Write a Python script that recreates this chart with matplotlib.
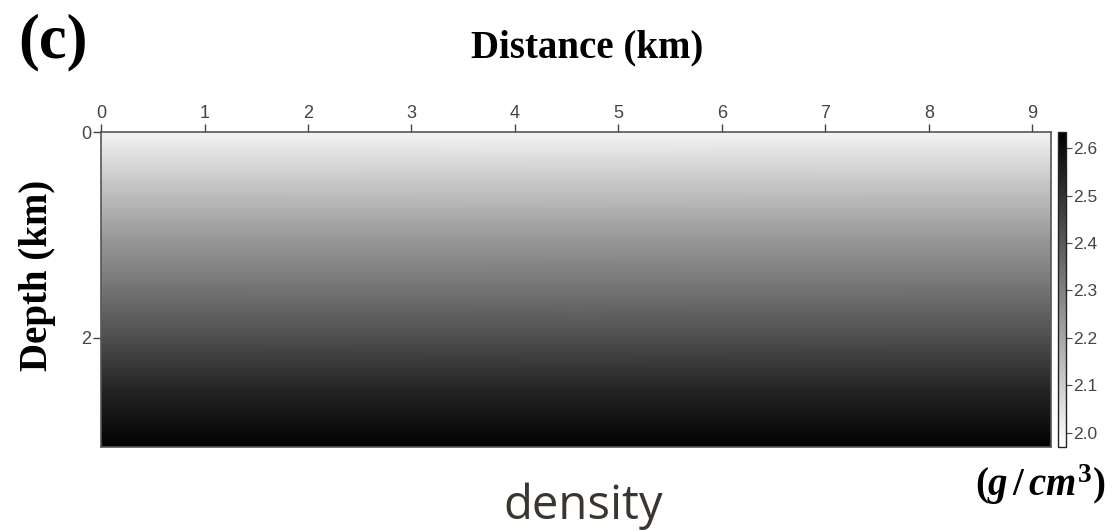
import numpy as np
import matplotlib
matplotlib.use("Agg")
from matplotlib import pyplot as plt

# density profile read from the grey level of the section (constant laterally)
depth_km = [0.0, 0.5, 1.0, 1.5, 2.0, 2.5, 3.06]
density = [2.00, 2.12, 2.23, 2.33, 2.43, 2.54, 2.63]
distance_km = [0.0, 9.18]

x_ticks = [0, 1, 2, 3, 4, 5, 6, 7, 8, 9]
y_ticks = [0, 2]
cbar_ticks = [2.0, 2.1, 2.2, 2.3, 2.4, 2.5, 2.6]
vmin, vmax = 1.97, 2.634

plt.rcParams['mathtext.fontset'] = 'custom'
plt.rcParams['mathtext.rm'] = 'Liberation Serif:bold'
plt.rcParams['mathtext.it'] = 'Liberation Serif:italic:bold'

serif = 'Liberation Serif'
sans = 'Liberation Sans'
tick_col = '#444444'

fig = plt.figure(figsize=(11.15, 5.31), dpi=100)
ax = fig.add_axes([0.0906, 0.1582, 0.852, 0.5932])

C = np.tile(np.array(density)[:, None], (1, len(distance_km)))
mesh = ax.pcolormesh(distance_km, depth_km, C, shading='gouraud',
                     cmap='gray_r', vmin=vmin, vmax=vmax)
ax.set_xlim(0, distance_km[-1])
ax.set_ylim(depth_km[-1], 0)

ax.xaxis.tick_top()
ax.set_xticks(x_ticks)
ax.set_yticks(y_ticks)
ax.tick_params(direction='out', length=6, width=1, colors=tick_col,
               labelsize=13, pad=1)
for lab in ax.get_xticklabels() + ax.get_yticklabels():
    lab.set_fontfamily(sans)
for s in ax.spines.values():
    s.set_color('#555555')
    s.set_linewidth(1.2)

cax = fig.add_axes([0.9489, 0.1582, 0.0075, 0.5932])
cb = fig.colorbar(mesh, cax=cax, ticks=cbar_ticks)
cb.ax.tick_params(length=4, width=0.8, colors=tick_col, labelsize=12.5, pad=1)
cb.ax.set_yticklabels([f'{t:.1f}' for t in cbar_ticks], fontfamily=sans)
cb.outline.set_edgecolor('#222222')
cb.outline.set_linewidth(1)

fig.text(0.016, 0.92, '(c)', fontfamily=serif, fontweight='bold',
         fontsize=45, ha='left', va='center')
fig.text(0.527, 0.91, 'Distance (km)', fontfamily=serif, fontweight='bold',
         fontsize=28, ha='center', va='center')
fig.text(0.034, 0.482, 'Depth (km)', fontfamily=serif, fontweight='bold',
         fontsize=28, ha='center', va='center', rotation=90)
fig.text(0.933, 0.087, r'$(g\,/\,cm^3)$', fontsize=28,
         ha='center', va='center')
fig.text(0.523, 0.022, 'density', fontfamily='Open Sans', fontsize=34,
         color='#3b3530', ha='center', va='baseline')

fig.savefig('out.png', dpi=100)
